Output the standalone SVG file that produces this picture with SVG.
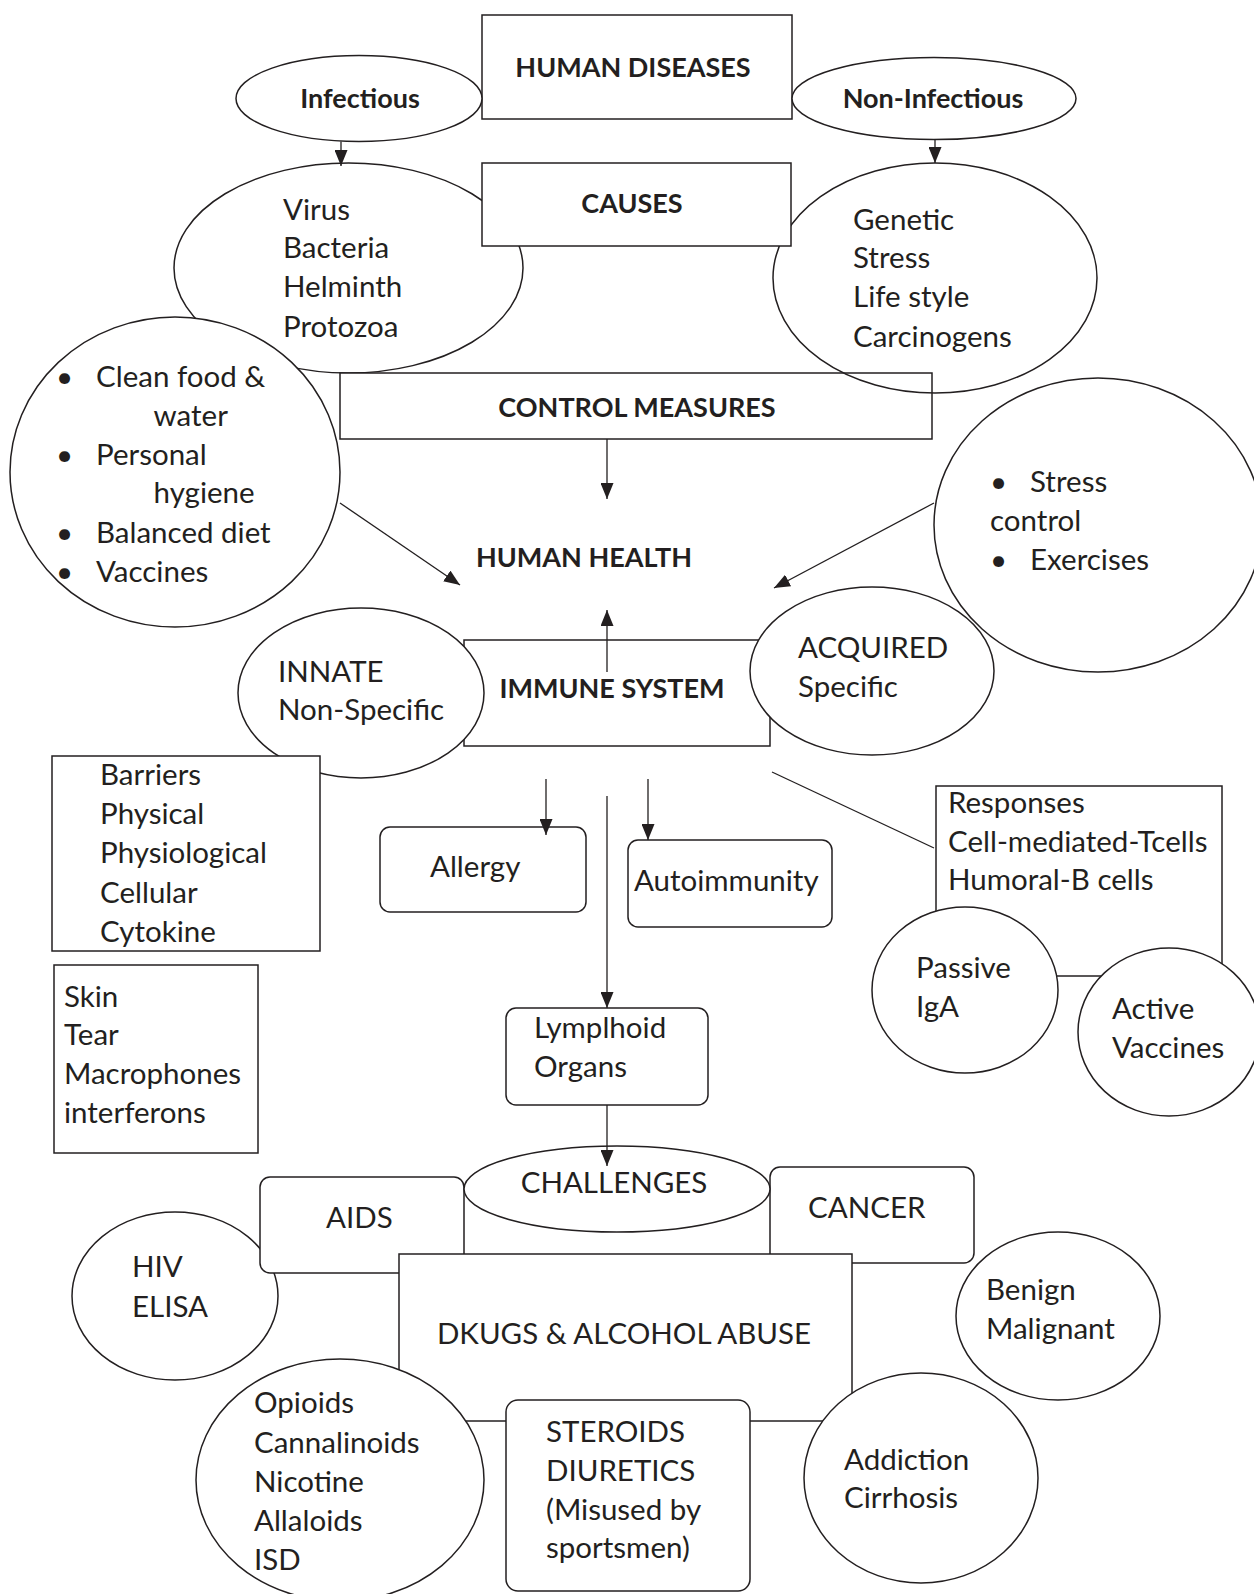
<svg xmlns="http://www.w3.org/2000/svg" width="1254" height="1594" viewBox="0 0 1254 1594">
<defs>
<marker id="ah" markerWidth="16" markerHeight="13" refX="16" refY="6.5" orient="auto" markerUnits="userSpaceOnUse"><path d="M0,0 L16,6.5 L0,13 z" fill="#231f20"/></marker>
<style>
.s{fill:#fff;stroke:#231f20;stroke-width:1.5}
.o{fill:none;stroke:#231f20;stroke-width:1.5}
.t{font-family:Lato,"Liberation Sans",sans-serif;font-size:29.5px;fill:#231f20}
.b{font-family:Lato,"Liberation Sans",sans-serif;font-size:27px;font-weight:bold;fill:#231f20;text-anchor:middle}
.m{text-anchor:middle}
.c{stroke:#231f20;stroke-width:1.3;fill:none}
.a{marker-end:url(#ah)}
</style>
</defs>
<rect width="1254" height="1594" fill="#fff"/>
<g id="nodes">
<g id="n-causes-left"><ellipse class="s" cx="348.5" cy="268" rx="174.5" ry="105"/>
<text class="t" x="283" y="220">Virus</text><text class="t" x="283" y="258">Bacteria</text><text class="t" x="283" y="297">Helminth</text><text class="t" x="283" y="337">Protozoa</text></g>
<g id="n-control"><rect class="s" x="340" y="373" width="592" height="66"/><text class="b" x="637" y="417">CONTROL MEASURES</text></g>
<g id="n-causes-right"><ellipse class="o" cx="935" cy="278" rx="162" ry="115"/>
<text class="t" x="853" y="230">Genetic</text><text class="t" x="853" y="268">Stress</text><text class="t" x="853" y="307">Life style</text><text class="t" x="853" y="347">Carcinogens</text></g>
<g id="n-causes"><rect class="s" x="482" y="163" width="309" height="83"/><text class="b" x="632" y="213">CAUSES</text></g>
<g id="n-control-left"><ellipse class="s" cx="175" cy="472" rx="165" ry="155"/>
<text class="t" x="56" y="387">•</text><text class="t" x="96" y="387">Clean food &amp;</text>
<text class="t" x="153.6" y="426">water</text>
<text class="t" x="56" y="465">•</text><text class="t" x="96" y="465">Personal</text>
<text class="t" x="153.6" y="503">hygiene</text>
<text class="t" x="56" y="543">•</text><text class="t" x="96" y="543">Balanced diet</text>
<text class="t" x="56" y="582">•</text><text class="t" x="96" y="582">Vaccines</text></g>
<g id="n-hd"><rect class="s" x="482" y="15" width="310" height="104"/><text class="b" x="633" y="77">HUMAN DISEASES</text></g>
<g id="n-inf"><ellipse class="s" cx="359" cy="98.5" rx="123" ry="43"/><text class="b" x="360" y="108">Infectious</text></g>
<g id="n-noninf"><ellipse class="s" cx="934" cy="98.5" rx="142" ry="41"/><text class="b" x="933" y="108">Non-Infectious</text></g>
<g id="n-health"><text class="b" x="584" y="567">HUMAN HEALTH</text></g>
<g id="n-immune"><rect class="s" x="464" y="640" width="306" height="106"/><text class="b" x="612" y="698">IMMUNE SYSTEM</text></g>
<g id="n-innate"><ellipse class="s" cx="361" cy="693" rx="123" ry="85"/><text class="t" x="278" y="682">INNATE</text><text class="t" x="278" y="720">Non-Specific</text></g>
<g id="n-acquired"><ellipse class="s" cx="872" cy="671" rx="122" ry="84"/><text class="t" x="798" y="658">ACQUIRED</text><text class="t" x="798" y="697">Specific</text></g>
<g id="n-control-right"><ellipse class="o" cx="1098" cy="525" rx="164" ry="147"/>
<text class="t" x="990" y="492">•</text><text class="t" x="1030" y="492">Stress</text>
<text class="t" x="990" y="531">control</text>
<text class="t" x="990" y="570">•</text><text class="t" x="1030" y="570">Exercises</text></g>
<g id="n-barriers"><rect class="s" x="52" y="756" width="268" height="195"/>
<text class="t" x="100" y="785">Barriers</text><text class="t" x="100" y="824">Physical</text><text class="t" x="100" y="863">Physiological</text><text class="t" x="100" y="903">Cellular</text><text class="t" x="100" y="942">Cytokine</text></g>
<g id="n-skin"><rect class="s" x="54" y="965" width="204" height="188"/>
<text class="t" x="64" y="1007">Skin</text><text class="t" x="64" y="1045">Tear</text><text class="t" x="64" y="1084">Macrophones</text><text class="t" x="64" y="1123">interferons</text></g>
<g id="n-allergy"><rect class="s" x="380" y="827" width="206" height="85" rx="10"/><text class="t" x="430" y="877">Allergy</text></g>
<g id="n-autoimm"><rect class="s" x="628" y="840" width="204" height="87" rx="10"/><text class="t" x="634" y="891">Autoimmunity</text></g>
<g id="n-responses"><rect class="s" x="936" y="786" width="286" height="190"/>
<text class="t" x="948" y="813">Responses</text><text class="t" x="948" y="852">Cell-mediated-Tcells</text><text class="t" x="948" y="890">Humoral-B cells</text></g>
<g id="n-passive"><ellipse class="s" cx="965" cy="990" rx="93" ry="83"/><text class="t" x="916" y="978">Passive</text><text class="t" x="916" y="1017">IgA</text></g>
<g id="n-active"><ellipse class="s" cx="1169" cy="1032" rx="91" ry="84"/><text class="t" x="1112" y="1019">Active</text><text class="t" x="1112" y="1058">Vaccines</text></g>
<g id="n-lymph"><rect class="s" x="506" y="1008" width="202" height="97" rx="10"/><text class="t" x="534" y="1038">Lymplhoid</text><text class="t" x="534" y="1077">Organs</text></g>
<g id="n-hiv"><ellipse class="s" cx="175" cy="1296" rx="103" ry="84"/><text class="t" x="132" y="1277">HIV</text><text class="t" x="132" y="1317">ELISA</text></g>
<g id="n-aids"><rect class="s" x="260" y="1177" width="204" height="96" rx="10"/><text class="t" x="326" y="1228">AIDS</text></g>
<g id="n-cancer"><rect class="s" x="770" y="1167" width="204" height="96" rx="10"/><text class="t" x="808" y="1218">CANCER</text></g>
<g id="n-challenges"><ellipse class="s" cx="617" cy="1189" rx="153" ry="43"/><text class="t m" x="614" y="1193">CHALLENGES</text></g>
<g id="n-dkugs"><rect class="s" x="399" y="1254" width="453" height="167"/><text class="t m" x="624" y="1344">DKUGS &amp; ALCOHOL ABUSE</text></g>
<g id="n-benign"><ellipse class="s" cx="1058" cy="1316" rx="102" ry="84"/><text class="t" x="986" y="1300">Benign</text><text class="t" x="986" y="1339">Malignant</text></g>
<g id="n-opioids"><ellipse class="s" cx="340" cy="1480" rx="144" ry="121"/>
<text class="t" x="254" y="1413">Opioids</text><text class="t" x="254" y="1453">Cannalinoids</text><text class="t" x="254" y="1492">Nicotine</text><text class="t" x="254" y="1531">Allaloids</text><text class="t" x="254" y="1570">ISD</text></g>
<g id="n-steroids"><rect class="s" x="506" y="1400" width="244" height="191" rx="12"/>
<text class="t" x="546" y="1442">STEROIDS</text><text class="t" x="546" y="1481">DIURETICS</text><text class="t" x="546" y="1520">(Misused by</text><text class="t" x="546" y="1558">sportsmen)</text></g>
<g id="n-addiction"><ellipse class="s" cx="921" cy="1478" rx="117" ry="105"/><text class="t" x="844" y="1470">Addiction</text><text class="t" x="844" y="1508">Cirrhosis</text></g>
</g>
<g id="connectors">
<line class="c a" x1="341" y1="141.5" x2="341" y2="166"/>
<line class="c a" x1="935" y1="139.5" x2="935" y2="163"/>
<line class="c a" x1="607" y1="439" x2="607" y2="499"/>
<line class="c a" x1="340" y1="503" x2="460" y2="585"/>
<line class="c a" x1="934" y1="503" x2="774" y2="588"/>
<line class="c a" x1="607" y1="672" x2="607" y2="610"/>
<line class="c a" x1="546" y1="779" x2="546" y2="835"/>
<line class="c a" x1="648" y1="779" x2="648" y2="840"/>
<line class="c a" x1="607" y1="796" x2="607" y2="1008"/>
<line class="c" x1="772" y1="772" x2="934" y2="848"/>
<line class="c a" x1="607" y1="1105" x2="607" y2="1166"/>
</g>
</svg>
